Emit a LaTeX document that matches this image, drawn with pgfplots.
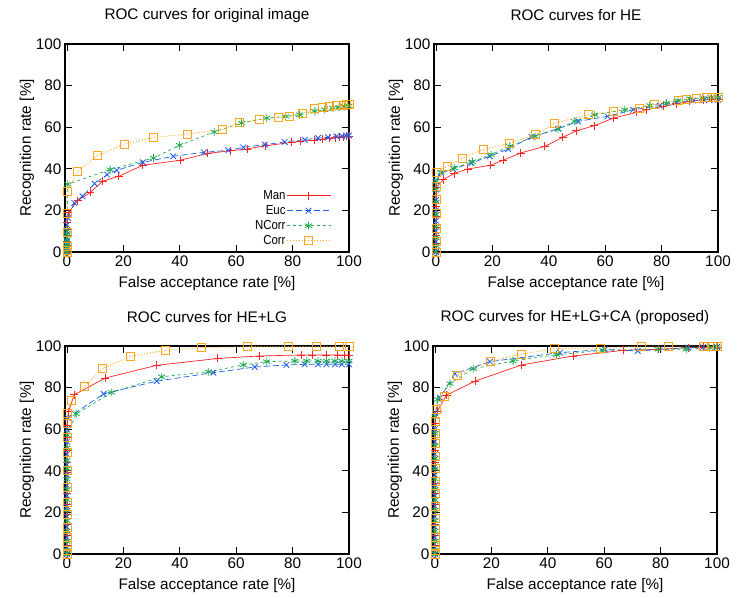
\documentclass[border=0pt]{standalone}
\usepackage{pgfplots}
\pgfplotsset{compat=1.18}
\usepackage{fontspec}
\setmainfont{Liberation Sans}
\newfontfamily\legfont[FakeStretch=0.88]{Liberation Sans}
\definecolor{cMan}{RGB}{255,35,35}
\definecolor{cEuc}{RGB}{30,95,230}
\definecolor{cNC}{RGB}{30,170,80}
\definecolor{cCorr}{RGB}{255,165,30}
\pgfplotsset{
  rocaxis/.style={
    width=284pt, height=208pt, scale only axis,
    xmin=-0.7, xmax=100, ymin=0, ymax=100,
    xtick={0,20,...,100}, ytick={0,20,...,100},
    tick align=inside, major tick length=7pt,
    every tick/.style={black, line width=0.8pt},
    axis line style={line width=1.2pt},
    /pgf/number format/assume math mode=true,
    tick label style={font=\fontsize{15.3}{18}\selectfont},
    label style={font=\fontsize{15.3}{18}\selectfont},
    title style={font=\fontsize{15.3}{18}\selectfont, at={(axis description cs:0.5,1.11)}, anchor=center, yshift=0pt},
    xlabel style={at={(axis description cs:0.5,-0.154)}, anchor=center},
    ylabel style={at={(axis description cs:-0.134,0.5)}, anchor=center, rotate=0},
    xlabel={False acceptance rate [\%]},
    ylabel={Recognition rate [\%]},
    clip=false,
  },
  sMan/.style={color=cMan, line width=0.7pt, mark=+, mark size=4pt, mark options={solid, line width=0.8pt}},
  sEuc/.style={color=cEuc, line width=0.7pt, dash pattern=on 6pt off 3pt, mark=x, mark size=4pt, mark options={solid, line width=0.8pt}},
  sNC/.style={color=cNC, line width=0.7pt, dash pattern=on 3pt off 3pt, mark=asterisk, mark size=4pt, mark options={solid, line width=0.8pt}},
  sCorr/.style={color=cCorr, line width=0.9pt, dash pattern=on 1pt off 2pt, mark=square, mark size=4pt, mark options={solid, line width=0.8pt, fill=none}},
}
\begin{document}
\begin{tikzpicture}
\useasboundingbox (0pt,0pt) rectangle (752pt,597pt);

% ---------------- Top left ----------------
\begin{axis}[rocaxis, at={(65pt,345pt)}, anchor=south west,
  title={ROC curves for original image},
  legend style={draw=none, fill=none, at={(axis description cs:0.948,0.309)}, anchor=north east,
    font=\legfont\fontsize{13}{13}\selectfont, row sep=3.3pt,
    nodes={inner sep=0.6pt}},
  legend cell align=right, legend plot pos=right,
  legend image code/.code={\draw[mark repeat=2,mark phase=2] plot coordinates {(2pt,0pt)(24pt,0pt)(46pt,0pt)};},
]
\addplot[sMan] coordinates {(0,0)(0,1)(0,3)(0,5)(0,8)(0,11)(0,14)(0.4,18.8)(3.8,24.7)(8.3,28.7)(12.6,34)(18.3,36.4)(26.9,41.7)(40.1,44.1)(49.9,47.4)(58.1,48.7)(63.8,49.5)(70.4,51.1)(79.7,52.7)(82.8,53.2)(87.6,53.8)(90.6,54.3)(92.9,54.6)(95,55)(96.5,55.3)(98,55.5)(99,55.6)(100,55.6)};
\addlegendentry{Man}
\addplot[sEuc] coordinates {(0,0)(0,1.5)(0,3)(0,5)(0,7)(0,10)(0,13)(0.4,16.3)(2.6,23.6)(5.5,26.8)(9.8,32.9)(14.2,37.2)(17.7,39.3)(26.9,43.1)(37.7,46)(48.6,47.9)(57.2,48.9)(62.5,50.3)(70.2,51.6)(77.2,52.9)(84.3,54)(89,54.8)(92.6,55.1)(95.5,55.6)(97.5,55.8)(99,56)(100,56)};
\addlegendentry{Euc}
\addplot[sNC] coordinates {(0,0)(0,1)(0,2.5)(0,4)(0,6)(0,8.5)(0,10.7)(0.3,32.6)(15.3,39.6)(30.7,45.2)(39.9,51.3)(52.2,57.7)(61.9,62)(70.8,64.4)(77.6,65.2)(82.5,66)(87.9,67.6)(91.4,68.4)(94.3,69.2)(96.5,69.6)(98.5,70)(100,70.2)};
\addlegendentry{NCorr}
\addplot[sCorr] coordinates {(0,0)(0,1)(0,2.5)(0,9.6)(0,18.5)(0,29.2)(3.8,38.8)(10.8,46.3)(20.3,51.9)(30.7,55.1)(42.7,56.7)(55.2,58.8)(61.1,62.3)(68.4,63.6)(74.9,64.7)(79,65.2)(83.4,66.8)(87.9,68.8)(90.6,69.6)(93.2,70)(95.5,70.4)(97.9,70.7)(99.2,70.8)(100,70.9)};
\addlegendentry{Corr}
\end{axis}

% ---------------- Top right ----------------
\begin{axis}[rocaxis, at={(434pt,345pt)}, anchor=south west,
  title={ROC curves for HE}]
\addplot[sMan] coordinates {(0,0)(0,4)(0,8)(0,12)(0,17)(0,22)(0,27)(0,31)(2.6,34.8)(6.4,37.7)(11.2,39.9)(19.4,41.7)(23.8,44.1)(30,47.6)(38.6,50.8)(44.9,55.1)(49.8,58.3)(56.1,60.7)(63,64.4)(71.1,67.1)(74.6,68.4)(80.5,70)(85.2,71.2)(90,72.4)(94.7,73.2)(97.5,73.5)(100,73.6)};
\addplot[sEuc] coordinates {(0,0)(0,5)(0,10)(0,15)(0,20)(0,25)(0,30)(0,34)(1.8,38)(6.1,39.9)(12.6,42.8)(19.1,46)(25.6,49.5)(33.9,55.3)(43.3,59.3)(50.4,62.8)(60.8,65.2)(69.9,68.4)(79.3,70.4)(85.2,72)(91.1,72.8)(95,73.1)(97,73.2)(100,73.2)};
\addplot[sNC] coordinates {(0,0)(0,3)(0,7)(0,12)(0,18)(0,24)(0,30)(0,34)(1.8,38.3)(6.5,40.4)(12.9,43.4)(19.5,46.8)(26.2,50.8)(35.1,55.6)(43.3,59.1)(49.2,62.8)(56.3,66)(66.9,68.4)(75.8,70.4)(81.7,71.6)(85.8,72.8)(90,73.7)(94.7,74)(97.5,74.3)(100,74.4)};
\addplot[sCorr] coordinates {(0,0)(0,5)(0,11.5)(0,18.5)(0,25.5)(0,31.5)(0,38.3)(4,41.2)(9.4,45.2)(16.8,49.2)(26,52.4)(35.4,56.4)(42.1,62)(54,66)(63,67.6)(72,69.2)(77.3,70.8)(85.8,72.8)(88.8,73.6)(92.3,74)(95.9,74.4)(98,74.4)(100,74.4)};
\end{axis}

% ---------------- Bottom left ----------------
\begin{axis}[rocaxis, at={(65pt,43pt)}, anchor=south west,
  title={ROC curves for HE+LG}]
\addplot[sMan] coordinates {(0,0)(0,4)(0,9)(0,14)(0,19)(0,24)(0,29)(0,34)(0,39)(0,44)(0,50)(0,56)(0,62)(0.6,68.5)(2.6,76.6)(13.6,84.6)(31.8,90.7)(53.4,94)(68.4,95.2)(83.1,95.7)(87,95.7)(92,95.7)(96,95.7)(98.5,95.7)(100,95.7)};
\addplot[sEuc] coordinates {(0,0)(0,3)(0,8)(0,13)(0,18)(0,23)(0,28)(0,33)(0,38)(0,43)(0,48)(0,54)(0,60)(0.3,65.5)(13,77)(31.8,83.1)(51.9,87.2)(66.6,89.9)(77.8,90.9)(84.3,91.2)(89,91.2)(92,91.2)(95,91.2)(97.5,91.2)(100,91.2)};
\addplot[sNC] coordinates {(0,0)(0,2)(0,6)(0,11)(0,16)(0,21)(0,26)(0,31)(0,36)(0,41)(0,45)(0,51)(0,57.3)(3.3,67.4)(15.9,77.7)(33.6,85.2)(50.1,87.6)(62.5,90.9)(70.8,92.5)(80.8,92.8)(85,92.8)(89,92.8)(92,92.8)(95,92.8)(97.5,92.8)(100,92.8)};
\addplot[sCorr] coordinates {(0,0)(0,1.5)(0,4)(0,8)(0,13)(0,19)(0,25)(0,32)(0,40)(0,49)(0,56)(0,62.8)(0.2,67.4)(1.5,73.8)(6.3,80.7)(12.6,89.2)(22.4,95)(34.8,97.9)(47.8,99.2)(63.9,99.7)(78.4,99.7)(88.5,99.7)(96.5,99.7)(100,99.7)};
\end{axis}

% ---------------- Bottom right ----------------
\begin{axis}[rocaxis, at={(433pt,43pt)}, anchor=south west,
  title={ROC curves for HE+LG+CA (proposed)}]
\addplot[sMan] coordinates {(0,0)(0,4)(0,9)(0,14)(0,19)(0,24)(0,29)(0,34)(0,39)(0,44)(0,50)(0,56)(0,63)(0.9,68.7)(4.1,76.4)(14.2,83.1)(30.7,90.9)(49,95.2)(66.7,97.9)(79.1,98.4)(89.7,99.2)(95,99.4)(100,99.5)};
\addplot[sEuc] coordinates {(0,0)(0,3)(0,8)(0,13)(0,18)(0,23)(0,28)(0,33)(0,38)(0,42)(0,48)(0,54)(0,60)(0,67.9)(1.8,75.1)(7.1,86.7)(19.5,92.5)(44.3,96.8)(60.2,98.4)(71.9,97.6)(89.7,99.2)(95,99.4)(100,99.5)};
\addplot[sNC] coordinates {(0,0)(0,2)(0,6)(0,11)(0,16)(0,21)(0,26)(0,31)(0,36)(0,41)(0,46)(0,52)(0,58)(0,66)(0.9,74.3)(5.3,81.9)(13.6,89.1)(27.7,92.8)(43.1,95.8)(59.6,97.9)(79.1,98.4)(89.1,98.4)(97.4,99.2)(100,99.5)};
\addplot[sCorr] coordinates {(0,0)(0,1.5)(0,4)(0,8)(0,12)(0,17)(0,23)(0,29)(0,35)(0,41)(0,47)(0,53)(0,58)(0,63.9)(0.4,69.5)(3.5,75.9)(8,86)(19.5,92.8)(30.7,96.1)(42.5,98.7)(58.7,99)(73.2,100)(82.6,100)(95,100)(98.5,100)(100,100)};
\end{axis}
\end{tikzpicture}
\end{document}
